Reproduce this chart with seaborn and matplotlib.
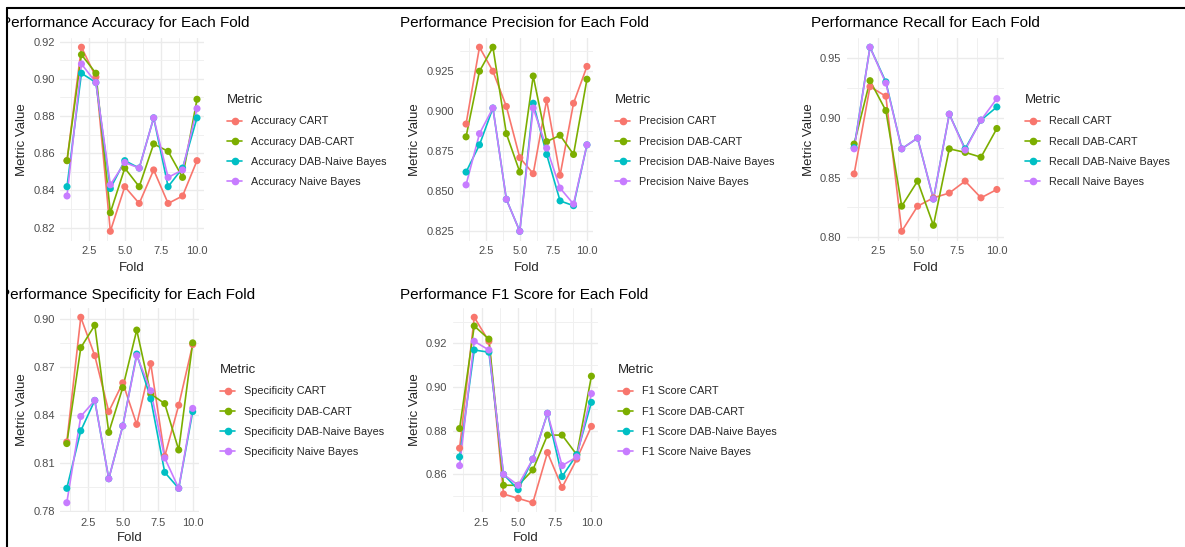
import pandas as pd
import seaborn as sns
import matplotlib.pyplot as plt
import matplotlib.ticker as mticker
from matplotlib.lines import Line2D
from matplotlib.patches import Rectangle

# Fold numbers
folds = [1, 2, 3, 4, 5, 6, 7, 8, 9, 10]
models = ['CART', 'DAB-CART', 'DAB-Naive Bayes', 'Naive Bayes']

# Accuracy
acc_cart = [0.856, 0.917, 0.901, 0.818, 0.842, 0.833, 0.851, 0.833, 0.837, 0.856]
acc_dabcart = [0.856, 0.913, 0.903, 0.828, 0.852, 0.842, 0.865, 0.861, 0.847, 0.889]
acc_dabnb = [0.842, 0.903, 0.898, 0.841, 0.856, 0.852, 0.879, 0.842, 0.852, 0.879]
acc_nb = [0.837, 0.908, 0.898, 0.843, 0.855, 0.852, 0.879, 0.847, 0.851, 0.884]

# Precision
prec_cart = [0.892, 0.940, 0.925, 0.903, 0.871, 0.861, 0.907, 0.860, 0.905, 0.928]
prec_dabcart = [0.884, 0.925, 0.940, 0.886, 0.862, 0.922, 0.881, 0.885, 0.873, 0.920]
prec_dabnb = [0.862, 0.879, 0.902, 0.845, 0.825, 0.905, 0.873, 0.844, 0.841, 0.879]
prec_nb = [0.854, 0.886, 0.902, 0.845, 0.825, 0.902, 0.877, 0.852, 0.842, 0.879]

# Recall
rec_cart = [0.853, 0.926, 0.918, 0.805, 0.826, 0.833, 0.837, 0.847, 0.833, 0.840]
rec_dabcart = [0.878, 0.931, 0.906, 0.826, 0.847, 0.810, 0.874, 0.871, 0.867, 0.891]
rec_dabnb = [0.875, 0.959, 0.930, 0.874, 0.883, 0.832, 0.903, 0.874, 0.898, 0.909]
rec_nb = [0.874, 0.959, 0.929, 0.874, 0.883, 0.832, 0.903, 0.873, 0.898, 0.916]

# Specificity
spec_cart = [0.823, 0.901, 0.877, 0.842, 0.860, 0.834, 0.872, 0.814, 0.846, 0.884]
spec_dabcart = [0.822, 0.882, 0.896, 0.829, 0.857, 0.893, 0.853, 0.847, 0.818, 0.885]
spec_dabnb = [0.794, 0.830, 0.849, 0.800, 0.833, 0.878, 0.850, 0.804, 0.794, 0.842]
spec_nb = [0.785, 0.839, 0.849, 0.800, 0.833, 0.877, 0.855, 0.813, 0.794, 0.844]

# F1 Score
f1_cart = [0.872, 0.932, 0.921, 0.851, 0.849, 0.847, 0.870, 0.854, 0.867, 0.882]
f1_dabcart = [0.881, 0.928, 0.922, 0.855, 0.855, 0.862, 0.878, 0.878, 0.869, 0.905]
f1_dabnb = [0.868, 0.917, 0.916, 0.860, 0.853, 0.867, 0.888, 0.859, 0.869, 0.893]
f1_nb = [0.864, 0.921, 0.917, 0.860, 0.855, 0.867, 0.888, 0.864, 0.868, 0.897]

palette = ['#F8766D', '#7CAE00', '#00BFC4', '#C77CFF']

sns.set_theme(style='white')
plt.rcParams['font.family'] = ['Liberation Sans', 'DejaVu Sans']

W, H = 1185, 547
fig = plt.figure(figsize=(W / 100, H / 100), dpi=100)


def px_box(l, r, t, b):
    return [l / W, 1 - b / H, (r - l) / W, (b - t) / H]


panels = [
    ('Accuracy', [acc_cart, acc_dabcart, acc_dabnb, acc_nb], 0.02, '%.2f',
     (60.5, 203.5, 38, 240.5), 1, 23, 22, 268, (227, 94)),
    ('Precision', [prec_cart, prec_dabcart, prec_dabnb, prec_nb], 0.025, '%.3f',
     (460, 593, 38, 240.5), 400, 23, 415, 268, (615, 94)),
    ('Recall', [rec_cart, rec_dabcart, rec_dabnb, rec_nb], 0.05, '%.2f',
     (847, 1004, 38, 240.5), 811, 23, 809, 268, (1025, 94)),
    ('Specificity', [spec_cart, spec_dabcart, spec_dabnb, spec_nb], 0.03, '%.2f',
     (60.5, 199, 308, 512), 0, 295, 22, 538, (220, 364)),
    ('F1 Score', [f1_cart, f1_dabcart, f1_dabnb, f1_nb], 0.02, '%.2f',
     (453, 598, 308, 512), 400, 295, 415, 538, (618, 364)),
]

for name, series, step, fmt, box, tx, ty, ylx, xly, leg in panels:
    rows = []
    for model, vals in zip(models, series):
        for f, v in zip(folds, vals):
            rows.append({'Fold': f, 'Value': v, 'Metric': f'{name} {model}'})
    df = pd.DataFrame(rows)
    labels = [f'{name} {m}' for m in models]

    ax = fig.add_axes(px_box(*box))
    sns.lineplot(data=df, x='Fold', y='Value', hue='Metric', hue_order=labels,
                 palette=palette, linewidth=1.2, legend=False, ax=ax, zorder=3)
    sns.scatterplot(data=df, x='Fold', y='Value', hue='Metric', hue_order=labels,
                    palette=palette, s=26, linewidth=0, legend=False, ax=ax, zorder=4)

    ax.margins(x=0.05, y=0.05)
    ax.xaxis.set_major_locator(mticker.FixedLocator([2.5, 5.0, 7.5, 10.0]))
    ax.xaxis.set_major_formatter(mticker.FormatStrFormatter('%.1f'))
    ax.xaxis.set_minor_locator(mticker.FixedLocator([1.25, 3.75, 6.25, 8.75]))
    ax.yaxis.set_major_locator(mticker.MultipleLocator(step))
    ax.yaxis.set_major_formatter(mticker.FormatStrFormatter(fmt))
    ax.yaxis.set_minor_locator(mticker.AutoMinorLocator(2))
    ax.grid(True, which='major', color='#EBEBEB', linewidth=1.0)
    ax.grid(True, which='minor', color='#F0F0F0', linewidth=0.7)
    ax.set_axisbelow(True)
    for sp in ax.spines.values():
        sp.set_visible(False)
    ax.tick_params(which='both', length=0, labelsize=8, labelcolor='#4D4D4D', pad=4)
    ax.set_xlabel('')
    ax.set_ylabel('')

    fig.text(tx / W, 1 - ty / H, f'Performance {name} for Each Fold',
             fontsize=11, ha='left', va='center', color='black')
    fig.text(ylx / W, 1 - ((box[2] + box[3]) / 2) / H, 'Metric Value',
             fontsize=9.5, rotation=90, ha='center', va='center')
    fig.text(((box[0] + box[1]) / 2) / W, 1 - xly / H, 'Fold',
             fontsize=9.5, ha='center', va='center')

    handles = [Line2D([0], [0], color=c, marker='o', markersize=4.5, linewidth=1.2)
               for c in palette]
    fig.legend(handles, labels, title='Metric', loc='upper left',
               bbox_to_anchor=(leg[0] / W, 1 - leg[1] / H), frameon=False,
               fontsize=7.8, title_fontsize=9.5, alignment='left',
               handlelength=1.4, handletextpad=0.8, labelspacing=0.95,
               borderpad=0, borderaxespad=0)

# screenshot frame on top and left edge
fig.add_artist(Rectangle((0, 0), 6 / W, 1, transform=fig.transFigure,
                         facecolor='white', edgecolor='none', zorder=10))
fig.add_artist(Rectangle((0, 1 - 7 / H), 1, 7 / H, transform=fig.transFigure,
                         facecolor='white', edgecolor='none', zorder=10))
fig.add_artist(Line2D([6.5 / W, 6.5 / W], [0, 1 - 8 / H], transform=fig.transFigure,
                      color='black', linewidth=1.5, zorder=11))
fig.add_artist(Line2D([6.5 / W, 1], [1 - 8 / H, 1 - 8 / H], transform=fig.transFigure,
                      color='black', linewidth=1.5, zorder=11))

fig.savefig('out.png', dpi=100)
